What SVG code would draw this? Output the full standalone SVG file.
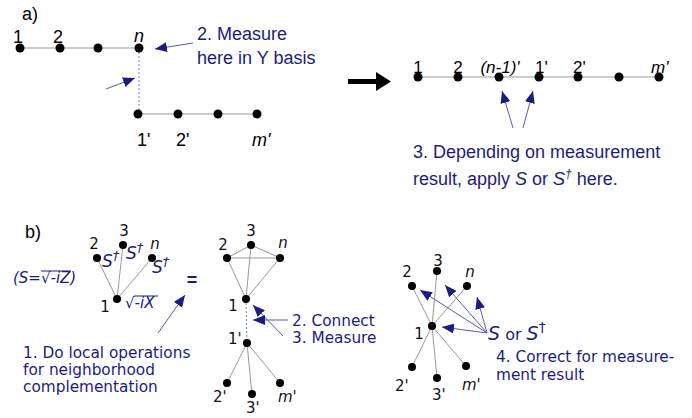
<svg xmlns="http://www.w3.org/2000/svg" width="692" height="418" viewBox="0 0 692 418">
<style>
.e{stroke:#999;stroke-width:1;fill:none}
.d{stroke:#8080c8;stroke-width:1;stroke-dasharray:2,2;fill:none}
.a{stroke:#5c5cae;stroke-width:1;fill:none;marker-end:url(#ah)}
.n{fill:#000}
.lt{font-family:"Liberation Sans",Arial,sans-serif;font-size:18px;fill:#000}
.lr{font-family:"Liberation Sans",Arial,sans-serif;font-size:17px;fill:#000}
.lb{font-family:"DejaVu Sans",Verdana,sans-serif;font-size:15px;fill:#111}
.bt{font-family:"Liberation Sans",Arial,sans-serif;font-size:18px;fill:#1c1c80}
.bb{font-family:"DejaVu Sans",Verdana,sans-serif;font-size:15.3px;fill:#1c1c80}
.bi{font-family:"DejaVu Sans",Verdana,sans-serif;font-style:italic;fill:#1c1c80}
.i{font-style:italic}
.ov{stroke:#1c1c80;stroke-width:1}
</style>
<defs>
<marker id="ah" viewBox="0 0 12 10" refX="12" refY="5" markerWidth="12" markerHeight="10" markerUnits="userSpaceOnUse" orient="auto">
<path d="M0,0 L12,5 L0,10 z" fill="#1c1c80"/>
</marker>
</defs>
<rect width="692" height="418" fill="#fff"/>

<text class="lt" x="22" y="20">a)</text>
<text class="lt" x="25" y="238">b)</text>

<g id="connectors">
<line class="e" x1="20" y1="48" x2="139" y2="48"/>
<line class="e" x1="138" y1="114" x2="257" y2="114"/>
<line class="d" x1="139" y1="52" x2="139" y2="110"/>
<line class="a" x1="193" y1="43" x2="155" y2="49"/>
<line class="a" x1="106" y1="89" x2="135" y2="78"/>
<line class="e" x1="418" y1="77" x2="659" y2="77"/>
<line class="a" x1="513" y1="128" x2="502" y2="91"/>
<line class="a" x1="523" y1="128" x2="533" y2="91"/>
<path d="M348,79 L376,79 L376,72 L391,81.5 L376,91 L376,84 L348,84 z" fill="#000"/>
<line class="e" x1="117" y1="299" x2="97" y2="258"/>
<line class="e" x1="117" y1="299" x2="123" y2="245"/>
<line class="e" x1="117" y1="299" x2="152" y2="258"/>
<line class="a" x1="158" y1="333" x2="185" y2="295"/>
<line class="e" x1="227" y1="258" x2="251" y2="245"/>
<line class="e" x1="251" y1="245" x2="280" y2="258"/>
<line class="e" x1="227" y1="258" x2="280" y2="258"/>
<line class="e" x1="246" y1="299" x2="227" y2="258"/>
<line class="e" x1="246" y1="299" x2="251" y2="245"/>
<line class="e" x1="246" y1="299" x2="280" y2="258"/>
<line class="d" x1="246" y1="303" x2="247" y2="339"/>
<line class="e" x1="247" y1="343" x2="227" y2="383"/>
<line class="e" x1="247" y1="343" x2="252" y2="395"/>
<line class="e" x1="247" y1="343" x2="280" y2="383"/>
<line class="a" x1="283" y1="336" x2="253" y2="305"/>
<line class="a" x1="288" y1="320" x2="253" y2="320"/>
<line class="e" x1="432" y1="326" x2="412" y2="286"/>
<line class="e" x1="432" y1="326" x2="437" y2="271"/>
<line class="e" x1="432" y1="326" x2="467" y2="286"/>
<line class="e" x1="432" y1="326" x2="412" y2="367"/>
<line class="e" x1="432" y1="326" x2="437" y2="378"/>
<line class="e" x1="432" y1="326" x2="466" y2="366"/>
<line class="a" x1="487" y1="333" x2="420" y2="290"/>
<line class="a" x1="487" y1="333" x2="445" y2="285"/>
<line class="a" x1="487" y1="333" x2="477" y2="297"/>
<line class="a" x1="487" y1="333" x2="442" y2="327"/>
</g>

<g id="a-1"><text class="lt" x="18" y="43" text-anchor="middle">1</text><circle class="n" cx="20" cy="48" r="4.5"/></g>
<g id="a-2"><text class="lt" x="58" y="43" text-anchor="middle">2</text><circle class="n" cx="60" cy="48" r="4.5"/></g>
<g id="a-3"><circle class="n" cx="98" cy="48" r="4.5"/></g>
<g id="a-n"><text class="lt i" x="139" y="42" text-anchor="middle">n</text><circle class="n" cx="139" cy="48" r="4.5"/></g>
<g id="a-1p"><circle class="n" cx="138" cy="114" r="4.5"/><text class="lt" x="137" y="146">1'</text></g>
<g id="a-2p"><circle class="n" cx="178" cy="114" r="4.5"/><text class="lt" x="176" y="146">2'</text></g>
<g id="a-3p"><circle class="n" cx="218" cy="114" r="4.5"/></g>
<g id="a-mp"><circle class="n" cx="257" cy="114" r="4.5"/><text class="lt i" x="252" y="146">m'</text></g>
<g id="a-note2"><text class="bt" x="197" y="40">2. Measure</text><text class="bt" x="197" y="64">here in Y basis</text></g>

<g id="r-1"><text class="lr" x="418" y="73" text-anchor="middle">1</text><circle class="n" cx="418" cy="77" r="4.5"/></g>
<g id="r-2"><text class="lr" x="458" y="73" text-anchor="middle">2</text><circle class="n" cx="458" cy="77" r="4.5"/></g>
<g id="r-n1"><text class="lr i" x="500" y="73" text-anchor="middle">(n-1)'</text><circle class="n" cx="499" cy="77" r="4.5"/></g>
<g id="r-1p"><text class="lr" x="535" y="73">1'</text><circle class="n" cx="539" cy="77" r="4.5"/></g>
<g id="r-2p"><text class="lr" x="573" y="73">2'</text><circle class="n" cx="578" cy="77" r="4.5"/></g>
<g id="r-3p"><circle class="n" cx="619" cy="77" r="4.5"/></g>
<g id="r-mp"><text class="lr i" x="651" y="73">m'</text><circle class="n" cx="659" cy="77" r="4.5"/></g>
<g id="a-note3"><text class="bt" x="413" y="158">3. Depending on measurement</text><text class="bt" x="413" y="185">result, apply <tspan class="i">S</tspan> or <tspan class="i">S</tspan><tspan class="i" font-size="12" dy="-7">†</tspan><tspan dy="7"> here.</tspan></text></g>

<g id="bl-2"><text class="lb" x="94" y="249" text-anchor="middle">2</text><circle class="n" cx="97" cy="258" r="4"/></g>
<g id="bl-3"><text class="lb" x="124" y="236" text-anchor="middle">3</text><circle class="n" cx="123" cy="245" r="4"/></g>
<g id="bl-n"><text class="lb i" x="155" y="249" text-anchor="middle">n</text><circle class="n" cx="152" cy="258" r="4"/></g>
<g id="bl-1"><text class="lb" x="105" y="312" text-anchor="middle">1</text><circle class="n" cx="117" cy="299" r="4"/></g>
<text class="bi" x="102" y="267" font-size="17">S<tspan font-size="13" dy="-7">†</tspan></text>
<text class="bi" x="126" y="259" font-size="17">S<tspan font-size="13" dy="-7">†</tspan></text>
<text class="bi" x="152" y="273" font-size="17">S<tspan font-size="13" dy="-7">†</tspan></text>
<text class="bi" x="125" y="308" font-size="15">√-iX</text>
<line class="ov" x1="134" y1="296" x2="158" y2="296"/>
<text class="bi" x="13" y="283" font-size="15">(S=√-iZ)</text>
<line class="ov" x1="41" y1="271" x2="71" y2="271"/>
<text class="bt" x="192" y="286" text-anchor="middle" font-weight="bold">=</text>
<g id="b-note1"><text class="bb" x="23" y="358">1. Do local operations</text><text class="bb" x="23" y="375">for neighborhood</text><text class="bb" x="23" y="392">complementation</text></g>

<g id="bm-2"><text class="lb" x="223" y="250" text-anchor="middle">2</text><circle class="n" cx="227" cy="258" r="4"/></g>
<g id="bm-3"><text class="lb" x="251" y="236" text-anchor="middle">3</text><circle class="n" cx="251" cy="245" r="4"/></g>
<g id="bm-n"><text class="lb i" x="283" y="248" text-anchor="middle">n</text><circle class="n" cx="280" cy="258" r="4"/></g>
<g id="bm-1"><text class="lb" x="233" y="311" text-anchor="middle">1</text><circle class="n" cx="246" cy="299" r="4"/></g>
<g id="bm-1p"><text class="lb" x="228" y="344">1'</text><circle class="n" cx="247" cy="343" r="4"/></g>
<g id="bm-2p"><circle class="n" cx="227" cy="383" r="4"/><text class="lb" x="213" y="402">2'</text></g>
<g id="bm-3p"><circle class="n" cx="252" cy="394" r="4"/><text class="lb" x="246" y="413">3'</text></g>
<g id="bm-mp"><circle class="n" cx="280" cy="383" r="4"/><text class="lb i" x="278" y="402">m'</text></g>
<g id="b-note23"><text class="bb" x="292" y="326">2. Connect</text><text class="bb" x="292" y="343">3. Measure</text></g>

<g id="br-2"><text class="lb" x="407" y="277" text-anchor="middle">2</text><circle class="n" cx="412" cy="286" r="4"/></g>
<g id="br-3"><text class="lb" x="438" y="266" text-anchor="middle">3</text><circle class="n" cx="437" cy="271" r="4"/></g>
<g id="br-n"><text class="lb i" x="470" y="277" text-anchor="middle">n</text><circle class="n" cx="467" cy="286" r="4"/></g>
<g id="br-1"><text class="lb" x="419" y="339" text-anchor="middle">1</text><circle class="n" cx="432" cy="326" r="4"/></g>
<g id="br-2p"><circle class="n" cx="412" cy="367" r="4"/><text class="lb" x="395" y="391">2'</text></g>
<g id="br-3p"><circle class="n" cx="437" cy="378" r="4"/><text class="lb" x="432" y="400">3'</text></g>
<g id="br-mp"><circle class="n" cx="466" cy="366" r="4"/><text class="lb i" x="462" y="390">m'</text></g>
<g id="b-note4"><text class="bi" x="488" y="340" font-size="19">S<tspan font-style="normal" font-size="16"> or </tspan>S<tspan font-style="normal" font-size="14" dy="-8">†</tspan></text><text class="bb" x="496" y="362">4. Correct for measure-</text><text class="bb" x="496" y="380">ment result</text></g>
</svg>
